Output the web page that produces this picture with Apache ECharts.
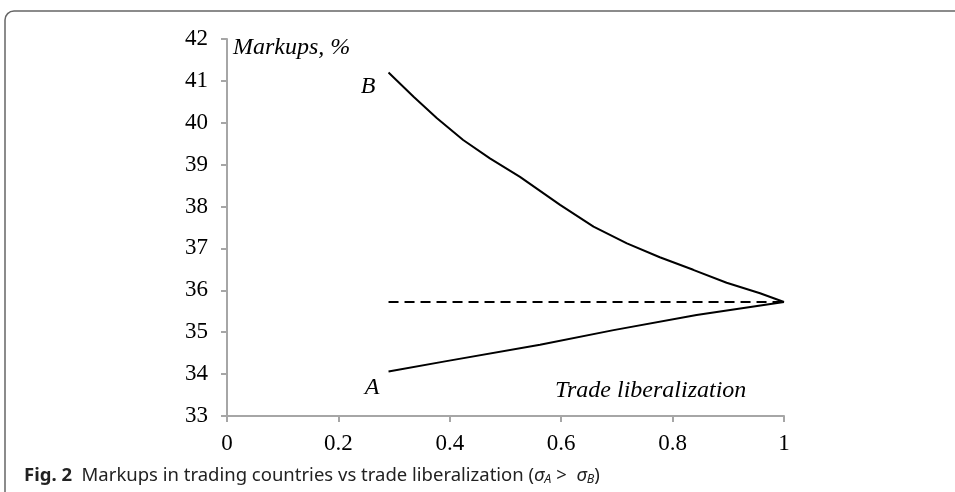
<!DOCTYPE html>
<html><head><meta charset="utf-8">
<script src="https://cdn.jsdelivr.net/npm/echarts@6/dist/echarts.min.js"></script>
<style>html,body{margin:0;padding:0;background:#fff}#c{width:955px;height:492px}</style>
</head><body><div id="c"></div>
<script>
const xTicks = [0, 0.2, 0.4, 0.6, 0.8, 1];
const yTicks = [33, 34, 35, 36, 37, 38, 39, 40, 41, 42];
const bX = [0.29, 0.335, 0.377, 0.424, 0.472, 0.526, 0.598, 0.658, 0.718, 0.777, 0.837, 0.897, 0.957, 1.0];
const bY = [41.20, 40.62, 40.11, 39.59, 39.15, 38.71, 38.04, 37.52, 37.12, 36.79, 36.49, 36.18, 35.93, 35.72];
const aX = [0.29, 0.394, 0.562, 0.694, 0.843, 1.0];
const aY = [34.06, 34.31, 34.70, 35.05, 35.41, 35.72];
const refX = [0.29, 1.0];
const refY = [35.72, 35.72];

const zip = (xs, ys) => xs.map((x, i) => [x, ys[i]]);
const serif = '"Liberation Serif", "Times New Roman", serif';
const sans = '"Noto Sans", "Open Sans", sans-serif';
const axisGray = '#a6a6a6';

const letterLabel = (t, dist, off) => ({show: true, formatter: t, position: 'left', distance: dist, offset: off,
  fontFamily: serif, fontStyle: 'italic', fontSize: 24, color: '#000'});
const bData = zip(bX, bY);
bData[0] = {value: bData[0], label: letterLabel('B', 13, [0, 14])};
const aData = zip(aX, aY);
aData[0] = {value: aData[0], label: letterLabel('A', 9, [0, 16])};

const chart = echarts.init(document.getElementById('c'), null, {renderer: 'canvas'});
chart.setOption({
  animation: false,
  backgroundColor: '#fff',
  grid: {left: 227, top: 39, right: 171, bottom: 76, containLabel: false},
  xAxis: {
    type: 'value', min: xTicks[0], max: xTicks[xTicks.length - 1], interval: 0.2,
    axisLine: {show: true, lineStyle: {color: axisGray, width: 2}},
    axisTick: {show: true, length: 6, lineStyle: {color: axisGray, width: 2}},
    splitLine: {show: false},
    axisLabel: {fontFamily: serif, fontSize: 23, color: '#000', margin: 16,
      formatter: v => String(Math.round(v * 10) / 10)}
  },
  yAxis: {
    type: 'value', min: yTicks[0], max: yTicks[yTicks.length - 1], interval: 1,
    axisLine: {show: true, lineStyle: {color: axisGray, width: 2}},
    axisTick: {show: true, length: 6, lineStyle: {color: axisGray, width: 2}},
    splitLine: {show: false},
    axisLabel: {fontFamily: serif, fontSize: 23, color: '#000', margin: 19}
  },
  series: [
    {type: 'line', data: bData, showSymbol: true, symbol: 'circle', symbolSize: 0,
      lineStyle: {color: '#000', width: 2}, itemStyle: {color: '#000'}, z: 3},
    {type: 'line', data: aData, showSymbol: true, symbol: 'circle', symbolSize: 0,
      lineStyle: {color: '#000', width: 2}, itemStyle: {color: '#000'}, z: 3},
    {type: 'line', data: zip(refX, refY), showSymbol: false, symbol: 'none',
      lineStyle: {color: '#000', width: 2, type: [10, 6]}, z: 2}
  ],
  graphic: [
    {type: 'rect', shape: {x: 5, y: 11, width: 1100, height: 700, r: 9}, silent: true,
      style: {fill: 'none', stroke: '#666', lineWidth: 1.5}},
    {type: 'text', left: 233, top: 36, silent: true,
      style: {text: 'Markups, %', font: 'italic 24px ' + serif, fill: '#000'}},
    {type: 'text', left: 555, top: 379, silent: true,
      style: {text: 'Trade liberalization', font: 'italic 24px ' + serif, fill: '#000'}},
    {type: 'text', left: 24, top: 466, silent: true,
      style: {
        text: '{b|Fig. 2}  Markups in trading countries vs trade liberalization ({i|σ}{s|A} >  {i|σ}{s|B})',
        font: '18.5px ' + sans, fill: '#222',
        rich: {
          b: {fontWeight: 'bold', fontSize: 18.5, fontFamily: sans, fill: '#222'},
          i: {fontStyle: 'italic', fontSize: 18.5, fontFamily: sans, fill: '#222'},
          s: {fontStyle: 'italic', fontSize: 12.5, fontFamily: sans, fill: '#222', padding: [8, 0, 0, 0]}
        }
      }}
  ]
});
</script></body></html>
